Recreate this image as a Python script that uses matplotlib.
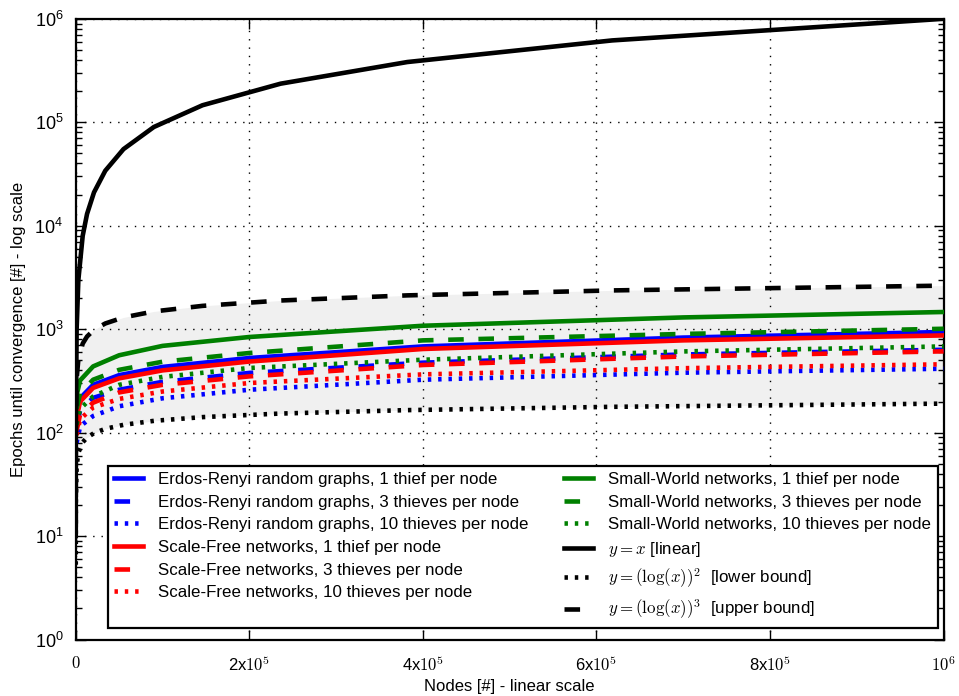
import matplotlib
matplotlib.use("Agg")
import matplotlib.pyplot as plt
from matplotlib.font_manager import FontProperties
from matplotlib.ticker import FixedLocator, LogFormatterSciNotation, NullFormatter

plt.rcParams["font.family"] = ["Liberation Sans", "DejaVu Sans"]
plt.rcParams["mathtext.fontset"] = "custom"
plt.rcParams["mathtext.rm"] = "Liberation Sans"
plt.rcParams["mathtext.it"] = "Liberation Sans:italic"

# ------------------------------------------------------------------ data ---
# reference curves (y = x, lower / upper bounds), sampled like the original
ref_nodes = [10, 100, 1000, 3000, 8000, 13000, 21000, 34000, 55000, 90000,
             146000, 236000, 382000, 618000, 1000000]
ref_linear = [10, 100, 1000, 3000, 8000, 13000, 21000, 34000, 55000, 90000,
              146000, 236000, 382000, 618000, 1000000]
ref_lower = [5.3, 21.2, 47.7, 64.1, 80.8, 89.7, 99.0, 108.9, 119.1, 130.1,
             141.4, 153.1, 165.2, 177.8, 190.9]
ref_upper = [12.2, 97.7, 330, 513, 726, 850, 986, 1136, 1300, 1485,
             1681, 1894, 2123, 2371, 2637]

# measured epochs until convergence
nodes = [1000, 5000, 20000, 50000, 100000, 200000, 400000, 700000, 1000000]
er_1 = [150, 215, 290, 360, 432, 527, 682, 830, 940]
er_3 = [115, 165, 217, 260, 310, 378, 475, 570, 633]
er_10 = [80, 115, 145, 180, 215, 260, 325, 380, 415]
sf_1 = [140, 200, 271, 335, 400, 487, 644, 780, 871]
sf_3 = [105, 150, 195, 245, 290, 350, 451, 545, 611]
sf_10 = [95, 135, 175, 212, 250, 302, 366, 420, 458]
sw_1 = [230, 320, 437, 560, 690, 841, 1080, 1300, 1467]
sw_3 = [170, 240, 325, 405, 485, 589, 780, 900, 1010]
sw_10 = [120, 170, 224, 290, 346, 422, 507, 610, 682]

x_ticks = [0, 200000, 400000, 600000, 800000, 1000000]
x_ticklabels = ["$0$", "2x$10^5$", "4x$10^5$", "6x$10^5$", "8x$10^5$", "$10^6$"]
y_ticks = [1, 10, 100, 1000, 10000, 100000, 1000000]

# ---------------------------------------------------------------- styling ---
LW = 3.3
DASH = (0, (3.4, 3.2))
DOT = (0, (0.75, 1.5))

fig = plt.figure(figsize=(9.59, 6.96), dpi=100)
ax = fig.add_axes([0.079, 0.081, 0.905, 0.892])

ax.fill_between(ref_nodes, ref_lower, ref_upper, color="#f0f0f0", lw=0, zorder=0)

series = [
    (er_1, "blue", "-", "Erdos-Renyi random graphs, 1 thief per node"),
    (er_3, "blue", DASH, "Erdos-Renyi random graphs, 3 thieves per node"),
    (er_10, "blue", DOT, "Erdos-Renyi random graphs, 10 thieves per node"),
    (sf_1, "red", "-", "Scale-Free networks, 1 thief per node"),
    (sf_3, "red", DASH, "Scale-Free networks, 3 thieves per node"),
    (sf_10, "red", DOT, "Scale-Free networks, 10 thieves per node"),
    (sw_1, "green", "-", "Small-World networks, 1 thief per node"),
    (sw_3, "green", DASH, "Small-World networks, 3 thieves per node"),
    (sw_10, "green", DOT, "Small-World networks, 10 thieves per node"),
]
for ys, col, ls, lab in series:
    ax.plot(nodes, ys, color=col, ls=ls, lw=LW, label=lab, zorder=3)

ax.plot(ref_nodes, ref_linear, color="black", lw=LW, zorder=3,
        label=r"$y=x$ [linear]")
ax.plot(ref_nodes, ref_lower, color="black", ls=DOT, lw=LW, zorder=3,
        label=r"$y=(\log(x))^2$  [lower bound]")
ax.plot(ref_nodes, ref_upper, color="black", ls=DASH, lw=LW, zorder=3,
        label=r"$y=(\log(x))^3$  [upper bound]")

ax.set_yscale("log")
ax.set_xlim(0, 1000000)
ax.set_ylim(1, 1e6)

ax.xaxis.set_major_locator(FixedLocator(x_ticks))
ax.set_xticklabels(x_ticklabels)
for lbl in ax.get_xticklabels():
    lbl.set_math_fontfamily("cm")

# minor ticks only inside the visible decades
minor_y = [m * d for d in y_ticks[:-1] for m in range(2, 10)]
ax.yaxis.set_major_locator(FixedLocator(y_ticks))
ax.yaxis.set_major_formatter(LogFormatterSciNotation())
ax.yaxis.set_minor_locator(FixedLocator(minor_y))
ax.yaxis.set_minor_formatter(NullFormatter())

ax.tick_params(which="both", direction="in", top=True, right=True)
ax.tick_params(axis="x", labelsize=12, pad=11)
ax.tick_params(axis="y", labelsize=13, pad=9)
ax.tick_params(which="major", length=7, width=1)
ax.tick_params(which="minor", length=4, width=1)

ax.grid(True, which="major", color="black", ls=(0, (1, 5)), lw=1)
for sp in ax.spines.values():
    sp.set_linewidth(1.6)

ax.set_xlabel("Nodes [#] - linear scale", fontsize=12, labelpad=3)
ax.set_ylabel("Epochs until convergence [#] - log scale", fontsize=12, labelpad=6)

leg_font = FontProperties(family="Liberation Sans", size=12.2, math_fontfamily="cm")
lg = ax.legend(loc="lower right", bbox_to_anchor=(0.993, 0.019),
               ncol=2, prop=leg_font, frameon=True,
               fancybox=False, edgecolor="black", framealpha=1,
               handlelength=1.7, handletextpad=0.9, labelspacing=0.45,
               columnspacing=2.1, borderaxespad=0, borderpad=0.38)
lg.get_frame().set_linewidth(1.6)
lg.set_zorder(5)

fig.savefig("out.png", dpi=100)
